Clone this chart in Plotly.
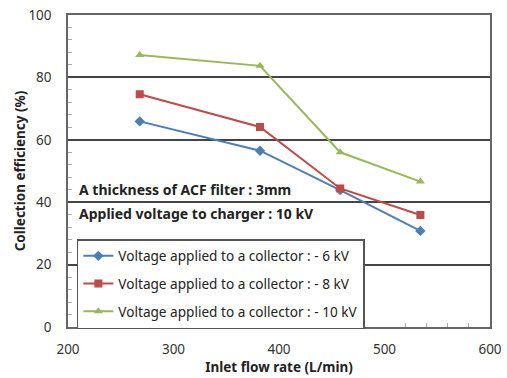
import plotly.graph_objects as go

flow = [268, 382, 458, 534]
eff_6kv = [65.9, 56.5, 43.9, 30.8]
eff_8kv = [74.6, 64.1, 44.4, 35.9]
eff_10kv = [87.2, 83.7, 56.0, 46.6]
names = ["Voltage applied to a collector : - 6 kV",
         "Voltage applied to a collector : - 8 kV",
         "Voltage applied to a collector : - 10 kV"]
colors = ["#4A7EBB", "#BE4B48", "#98B954"]
symbols = ["diamond", "square", "triangle-up"]

fig = go.Figure()
for i, (ys, n, c, s) in enumerate(zip([eff_6kv, eff_8kv, eff_10kv], names, colors, symbols)):
    fig.add_trace(go.Scatter(x=flow, y=ys, name=n, mode="lines+markers",
                             legendgroup=f"g{i}",
                             line=dict(color=c, width=2),
                             marker=dict(symbol=s, size=8, color=c)))

font = "Noto Sans"
fig.update_layout(
    width=507, height=378,
    margin=dict(l=68, r=17, t=15, b=51),
    plot_bgcolor="white", paper_bgcolor="white",
    font=dict(family=font, size=13, color="#222"),
    showlegend=True,
    legend=dict(x=0.021, y=0.282, xanchor="left", yanchor="top",
                bordercolor="#555", borderwidth=1.5, bgcolor="white",
                font=dict(size=13.6, family=font, color="#222"),
                tracegroupgap=7, itemwidth=30),
    xaxis=dict(range=[200, 600], dtick=100, showgrid=False, zeroline=False,
               automargin=False,
               showline=True, linecolor="#666", linewidth=1.5, mirror=True,
               ticks="", ticklabelstandoff=9, tickfont=dict(size=13.5, color="#333"),
               minor=dict(dtick=20, ticks="inside", ticklen=4, tickcolor="#aaa"),
               title=dict(text="<b>Inlet flow rate (L/min)</b>", font=dict(size=13.5, color="#222"), standoff=5)),
    yaxis=dict(range=[0, 100], dtick=20, showgrid=True, gridcolor="#444", gridwidth=1.8,
               automargin=False,
               zeroline=False, showline=True, linecolor="#666", linewidth=1.5, mirror=True,
               ticks="", ticklabelstandoff=12, tickfont=dict(size=13.5, color="#333"),
               minor=dict(dtick=4, ticks="inside", ticklen=4, tickcolor="#aaa", showgrid=False),
               title=dict(text="<b>Collection efficiency (%)</b>", font=dict(size=13.5, color="#222"), standoff=0)),
)
fig.add_annotation(x=0.022, y=44.2, xref="paper", yref="y", xanchor="left", yanchor="middle",
                   text="<b>A thickness of ACF filter : 3mm</b>", showarrow=False,
                   font=dict(size=14, color="#222"))
fig.add_annotation(x=0.022, y=36.5, xref="paper", yref="y", xanchor="left", yanchor="middle",
                   text="<b>Applied voltage to charger : 10 kV</b>", showarrow=False,
                   font=dict(size=14, color="#222"))
fig.write_html("out.html")
